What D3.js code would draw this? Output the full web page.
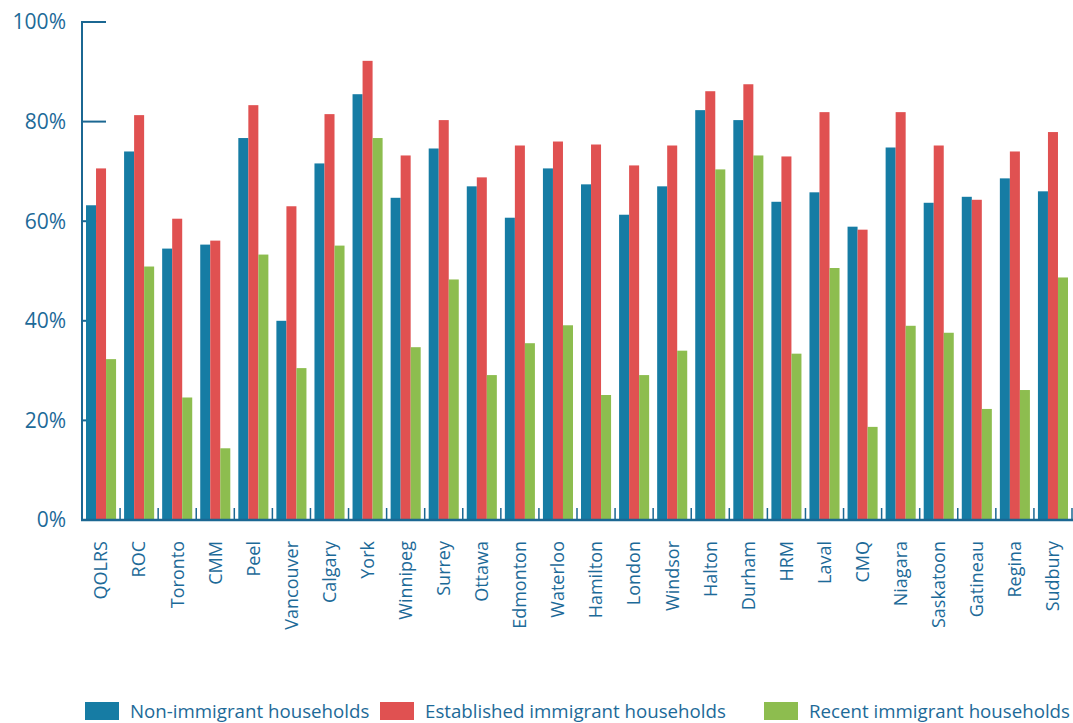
<!DOCTYPE html>
<html>
<head>
<meta charset="utf-8">
<script src="https://cdnjs.cloudflare.com/ajax/libs/d3/7.8.5/d3.min.js"></script>
<style>
  html, body { margin: 0; padding: 0; background: #fff; }
  svg { display: block; }
  text { font-family: "Open Sans", "Noto Sans", sans-serif; }
</style>
</head>
<body>
<script>
const categories = ["QOLRS","ROC","Toronto","CMM","Peel","Vancouver","Calgary","York","Winnipeg","Surrey","Ottawa","Edmonton","Waterloo","Hamilton","London","Windsor","Halton","Durham","HRM","Laval","CMQ","Niagara","Saskatoon","Gatineau","Regina","Sudbury"];
const seriesNames = ["Non-immigrant households","Established immigrant households","Recent immigrant households"];
const nonImmigrant = [63.2,74.0,54.5,55.3,76.7,40.0,71.6,85.5,64.7,74.6,67.0,60.7,70.6,67.4,61.3,67.0,82.3,80.3,63.9,65.8,58.9,74.8,63.7,64.9,68.6,66.0];
const established  = [70.6,81.3,60.5,56.1,83.3,63.0,81.5,92.2,73.2,80.3,68.8,75.2,76.0,75.4,71.2,75.2,86.1,87.5,73.0,81.9,58.3,81.9,75.2,64.3,74.0,77.9];
const recent       = [32.3,50.9,24.6,14.4,53.3,30.5,55.1,76.7,34.7,48.3,29.1,35.5,39.1,25.1,29.1,34.0,70.4,73.2,33.4,50.6,18.7,39.0,37.6,22.3,26.1,48.7];
const yTicks = [0,20,40,60,80,100];
const colors = ["#167ca4","#e05151","#8dbd4f"];

const W = 1073, H = 723;
const axisColor = "#1b6792";
const textColor = "#1d6a98";

const svg = d3.select("body").append("svg").attr("width", W).attr("height", H);

const x0 = d3.scaleBand().domain(categories).range([82, 1072]).padding(0);
const x1 = d3.scaleBand().domain(seriesNames).range([0, x0.bandwidth()]).paddingInner(0).paddingOuter(0.4);
const y = d3.scaleLinear().domain([0,100]).range([520, 22]);

// y ticks (drawn under bars)
const gy = svg.append("g");
gy.selectAll("line.tick").data(yTicks).join("line")
  .attr("x1", 82).attr("x2", 106)
  .attr("y1", d => y(d)).attr("y2", d => y(d))
  .attr("stroke", axisColor).attr("stroke-width", 2);
gy.selectAll("text").data(yTicks).join("text")
  .attr("x", 66).attr("y", d => y(d)).attr("dy", "0.35em")
  .attr("text-anchor", "end").attr("fill", textColor)
  .attr("font-size", 21)
  .text(d => d + "%");

// bottom group ticks
const bounds = categories.map(c => x0(c)).concat([x0.range()[1]]);
svg.append("g").selectAll("line").data(bounds.slice(1)).join("line")
  .attr("x1", d => d).attr("x2", d => d)
  .attr("y1", 520).attr("y2", 508)
  .attr("stroke", axisColor).attr("stroke-width", 1.5);

// bars
const data = [nonImmigrant, established, recent];
const groups = svg.append("g").selectAll("g").data(categories).join("g")
  .attr("transform", c => `translate(${x0(c)},0)`);
groups.selectAll("rect").data((c, i) => seriesNames.map((s, j) => ({s, j, v: data[j][i]}))).join("rect")
  .attr("x", d => x1(d.s)).attr("width", x1.bandwidth())
  .attr("y", d => y(d.v)).attr("height", d => y(0) - y(d.v))
  .attr("fill", d => colors[d.j]);

// axes lines
svg.append("line").attr("x1", 82).attr("x2", 82).attr("y1", 21).attr("y2", 521)
  .attr("stroke", axisColor).attr("stroke-width", 2);
svg.append("line").attr("x1", 81).attr("x2", W).attr("y1", 520).attr("y2", 520)
  .attr("stroke", axisColor).attr("stroke-width", 2.5);

// x labels
svg.append("g").selectAll("text").data(categories).join("text")
  .attr("transform", c => `translate(${x0(c) + x0.bandwidth()/2},541) rotate(-90)`)
  .attr("text-anchor", "end").attr("dy", "0.35em")
  .attr("fill", textColor).attr("font-size", 18)
  .text(c => c);

// legend
const legendX = [85, 380, 764];
const lg = svg.append("g").selectAll("g").data(seriesNames).join("g")
  .attr("transform", (d, i) => `translate(${legendX[i]},702)`);
lg.append("rect").attr("width", 34).attr("height", 18).attr("fill", (d, i) => colors[i]);
lg.append("text").attr("x", 45).attr("y", 16)
  .attr("fill", textColor).attr("font-size", 18.7).text(d => d);
</script>
</body>
</html>
